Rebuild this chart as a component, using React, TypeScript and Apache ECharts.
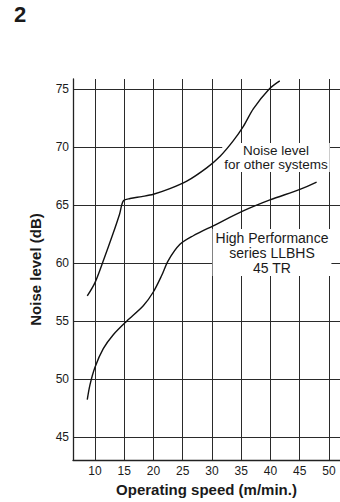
import React, { useEffect, useRef } from "react";
import * as echarts from "echarts";

const xTicks = [10, 15, 20, 25, 30, 35, 40, 45, 50];
const yTicks = [45, 50, 55, 60, 65, 70, 75];

const otherSpeed = [8.68, 10.0, 11.5, 13.0, 14.2, 14.85, 16.0, 18.0, 20.0, 22.8, 25.7, 29.1, 31.4, 33.6, 35.4, 37.1, 39.8, 41.6];
const otherNoise = [57.15, 58.3, 60.3, 62.4, 64.2, 65.35, 65.55, 65.72, 65.92, 66.4, 67.05, 68.2, 69.2, 70.5, 71.8, 73.3, 75.0, 75.7];

const hpSpeed = [8.68, 9.15, 10.0, 11.42, 13.13, 15.42, 18.26, 19.97, 21.4, 22.53, 24.53, 26.8, 30.22, 35.35, 39.92, 45.04, 47.9];
const hpNoise = [48.2, 49.5, 51.0, 52.6, 53.8, 54.97, 56.3, 57.49, 58.91, 60.2, 61.6, 62.34, 63.2, 64.48, 65.43, 66.34, 66.97];

const FONT = "'Liberation Sans', Arial, Helvetica, sans-serif";

export default function App() {
  const ref = useRef<HTMLDivElement>(null);
  useEffect(() => {
    if (!ref.current) return;
    const chart = echarts.init(ref.current, null, { renderer: "svg" });
    const pair = (xs: number[], ys: number[]) => xs.map((x, i) => [x, ys[i]]);
    chart.setOption({
      animation: false,
      backgroundColor: "#ffffff",
      textStyle: { fontFamily: FONT },
      grid: { left: 73, right: 0, top: 79, bottom: 40 },
      xAxis: {
        type: "value",
        min: 6.24,
        max: 51.9,
        name: "Operating speed (m/min.)",
        nameLocation: "middle",
        nameGap: 22,
        nameTextStyle: { fontFamily: FONT, fontSize: 15, fontWeight: "bold", color: "#1a1a1a" },
        axisLine: { show: true, lineStyle: { color: "#222", width: 1.3 } },
        axisTick: { show: false, customValues: xTicks },
        axisLabel: { customValues: xTicks, margin: 5, fontSize: 12, color: "#1a1a1a", fontFamily: FONT },
        splitLine: { show: true, lineStyle: { color: "#2a2a2a", width: 1 } },
      },
      yAxis: {
        type: "value",
        min: 43,
        max: 75.86,
        name: "Noise level (dB)",
        nameLocation: "middle",
        nameGap: 30,
        nameRotate: 90,
        nameTextStyle: { fontFamily: FONT, fontSize: 15, fontWeight: "bold", color: "#1a1a1a" },
        axisLine: { show: true, lineStyle: { color: "#222", width: 1.3 } },
        axisTick: { show: false, customValues: yTicks },
        axisLabel: { customValues: yTicks, margin: 4, fontSize: 12, color: "#1a1a1a", fontFamily: FONT },
        splitLine: { show: true, lineStyle: { color: "#2a2a2a", width: 1 } },
      },
      series: [
        {
          type: "line",
          name: "Noise level for other systems",
          data: pair(otherSpeed, otherNoise),
          showSymbol: false,
          smooth: 0.3,
          lineStyle: { color: "#111", width: 1.4 },
          z: 5,
        },
        {
          type: "line",
          name: "High Performance series LLBHS 45 TR",
          data: pair(hpSpeed, hpNoise),
          showSymbol: false,
          smooth: 0.3,
          lineStyle: { color: "#111", width: 1.4 },
          z: 5,
        },
      ],
      graphic: [
        {
          type: "text",
          left: 14,
          top: 3,
          style: { text: "2", font: `bold 22px ${FONT}`, fill: "#1a1a1a" },
        },
        {
          type: "text",
          x: 276,
          y: 143,
          z: 1,
          style: {
            text: "Noise level\nfor other systems",
            align: "center",
            verticalAlign: "top",
            font: `13.5px ${FONT}`,
            lineHeight: 14.5,
            fill: "#1a1a1a",
            backgroundColor: "#ffffff",
            padding: [0, 2],
          },
        },
        {
          type: "text",
          x: 272,
          y: 229,
          z: 1,
          style: {
            text: "High Performance\nseries LLBHS\n45 TR",
            align: "center",
            verticalAlign: "top",
            font: `14px ${FONT}`,
            lineHeight: 15,
            fill: "#1a1a1a",
            backgroundColor: "#ffffff",
            padding: [1, 3],
          },
        },
      ],
    });
    return () => chart.dispose();
  }, []);
  return (
    <div
      ref={ref}
      style={{ position: "fixed", left: 0, top: 0, width: 340, height: 502, background: "#fff" }}
    />
  );
}
